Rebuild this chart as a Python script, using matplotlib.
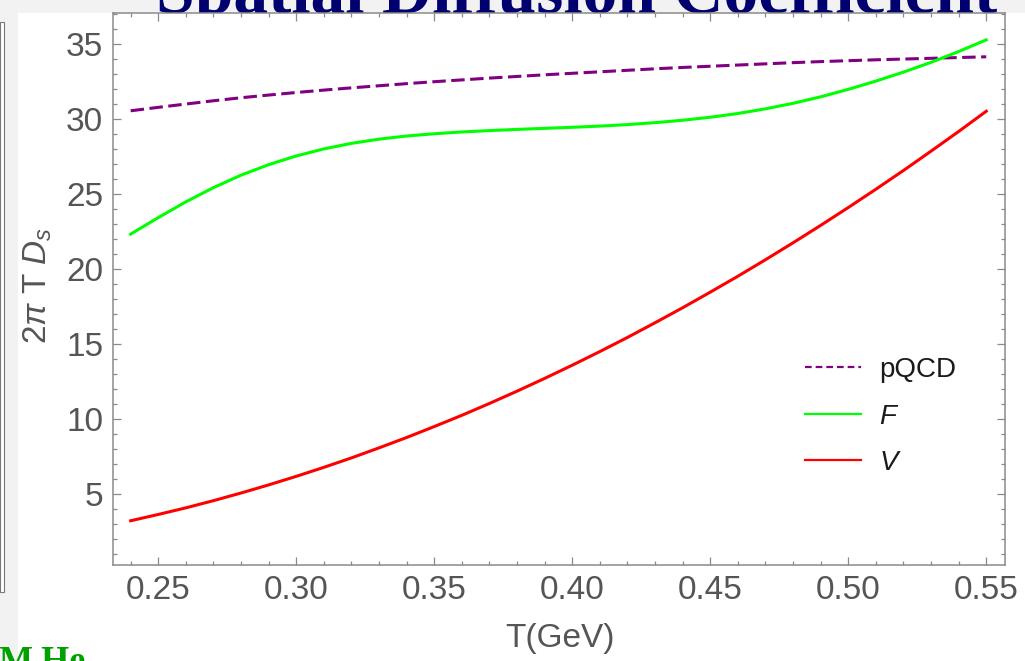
import matplotlib
matplotlib.use('Agg')
import matplotlib.pyplot as plt
from matplotlib.patches import Rectangle
from matplotlib.lines import Line2D
from matplotlib.ticker import MultipleLocator

# ---- data ----
T = [0.24, 0.25, 0.26, 0.27, 0.28, 0.29, 0.30, 0.31, 0.32, 0.33, 0.34,
     0.35, 0.36, 0.37, 0.38, 0.39, 0.40, 0.41, 0.42, 0.43, 0.44, 0.45,
     0.46, 0.47, 0.48, 0.49, 0.50, 0.51, 0.52, 0.53, 0.54, 0.55]
pqcd = [30.55, 30.78, 31.00, 31.22, 31.42, 31.60, 31.77, 31.93, 32.08, 32.22, 32.36,
        32.49, 32.61, 32.73, 32.84, 32.95, 33.05, 33.15, 33.25, 33.35, 33.44, 33.52,
        33.60, 33.68, 33.76, 33.83, 33.89, 33.95, 34.00, 34.05, 34.10, 34.15]
F_vals = [22.33, 23.43, 24.48, 25.43, 26.26, 26.96, 27.54, 28.01, 28.38, 28.66, 28.87,
          29.02, 29.14, 29.23, 29.31, 29.38, 29.45, 29.53, 29.63, 29.76, 29.92, 30.12,
          30.37, 30.68, 31.05, 31.48, 31.98, 32.53, 33.13, 33.78, 34.50, 35.28]
V_vals = [3.22, 3.64, 4.08, 4.56, 5.07, 5.61, 6.18, 6.78, 7.41, 8.08, 8.77,
          9.50, 10.25, 11.04, 11.86, 12.71, 13.59, 14.50, 15.44, 16.42, 17.42, 18.46,
          19.52, 20.62, 21.75, 22.91, 24.10, 25.32, 26.57, 27.86, 29.17, 30.52]
series_labels = ['pQCD', '$F$', '$V$']
xtick_vals = [0.25, 0.30, 0.35, 0.40, 0.45, 0.50, 0.55]
xtick_labels = ['0.25', '0.30', '0.35', '0.40', '0.45', '0.50', '0.55']
ytick_vals = [5, 10, 15, 20, 25, 30, 35]

plt.rcParams['font.family'] = ['Liberation Sans', 'DejaVu Sans']
plt.rcParams['mathtext.fontset'] = 'custom'
plt.rcParams['mathtext.rm'] = 'Liberation Sans'
plt.rcParams['mathtext.it'] = 'Liberation Sans:italic'
plt.rcParams['mathtext.bf'] = 'Liberation Sans:bold'

W, H = 1025, 661
def fx(px):
    return px / W
def fy(py):
    return 1 - py / H

fig = plt.figure(figsize=(W / 100, H / 100), dpi=100, facecolor='#f2f2f2')

# slide title (cut off at the top)
fig.text(fx(577), fy(12.7), 'Spatial Diffusion Coefficient', family='Liberation Serif',
         weight='bold', size=50, color='#00006e', ha='center', va='baseline', zorder=-3)
# white panel behind the chart
fig.patches.append(Rectangle((fx(18), 0), 1 - fx(18), fy(13), transform=fig.transFigure,
                             facecolor='white', edgecolor='none', zorder=-2))
# edge of the neighbouring chart on the left
fig.patches.append(Rectangle((0, fy(592)), fx(4), fy(22) - fy(592), transform=fig.transFigure,
                             facecolor='white', edgecolor='#777777', lw=0.8, zorder=-1))
# green author text at bottom left (cut off)
fig.text(fx(-2), fy(646), 'M.He', family='Liberation Serif', weight='bold', size=26,
         color='#00a000', ha='left', va='top', zorder=-1)

ax = fig.add_axes([fx(113), fy(565), fx(1005) - fx(113), fy(13) - fy(565)])
ax.set_facecolor('white')

ax.plot(T, pqcd, color='#800080', lw=2.2, dashes=(4.4, 1.8))
ax.plot(T, F_vals, color='#00ff00', lw=2.2)
ax.plot(T, V_vals, color='#ff0000', lw=2.2)

ax.set_xlim(0.2336, 0.5568)
ax.set_ylim(0.27, 37.07)
ax.set_xticks(xtick_vals)
ax.set_xticklabels(xtick_labels)
ax.set_yticks(ytick_vals)
ax.xaxis.set_minor_locator(MultipleLocator(0.01))
ax.yaxis.set_minor_locator(MultipleLocator(1))

for s in ax.spines.values():
    s.set_color('#8a8a8a')
    s.set_linewidth(1.1)
ax.tick_params(which='both', direction='in', top=True, right=True, color='#8a8a8a',
               width=0.9, labelcolor='#555555', labelsize=24)
ax.tick_params(which='major', length=5.5, pad=7)
ax.tick_params(which='minor', length=3)

fig.text(fx(560), fy(638), 'T(GeV)', ha='center', va='center', size=24, color='#555555')
fig.text(fx(38), fy(285), r'2$\pi$ T $D_s$', ha='center', va='center', rotation=90,
         size=24, color='#555555')

handles = [Line2D([], [], color='#800080', lw=1.6, dashes=(3, 1.8)),
           Line2D([], [], color='#00ff00', lw=1.6),
           Line2D([], [], color='#ff0000', lw=1.6)]
leg = fig.legend(handles, series_labels, loc='upper left',
                 bbox_to_anchor=(fx(805), fy(357)), frameon=False, fontsize=20,
                 handlelength=2.0, handletextpad=0.68, labelspacing=0.74, borderpad=0,
                 borderaxespad=0)
for t in leg.get_texts():
    t.set_color('#1a1a1a')

fig.savefig('out.png', dpi=100, facecolor=fig.get_facecolor())
